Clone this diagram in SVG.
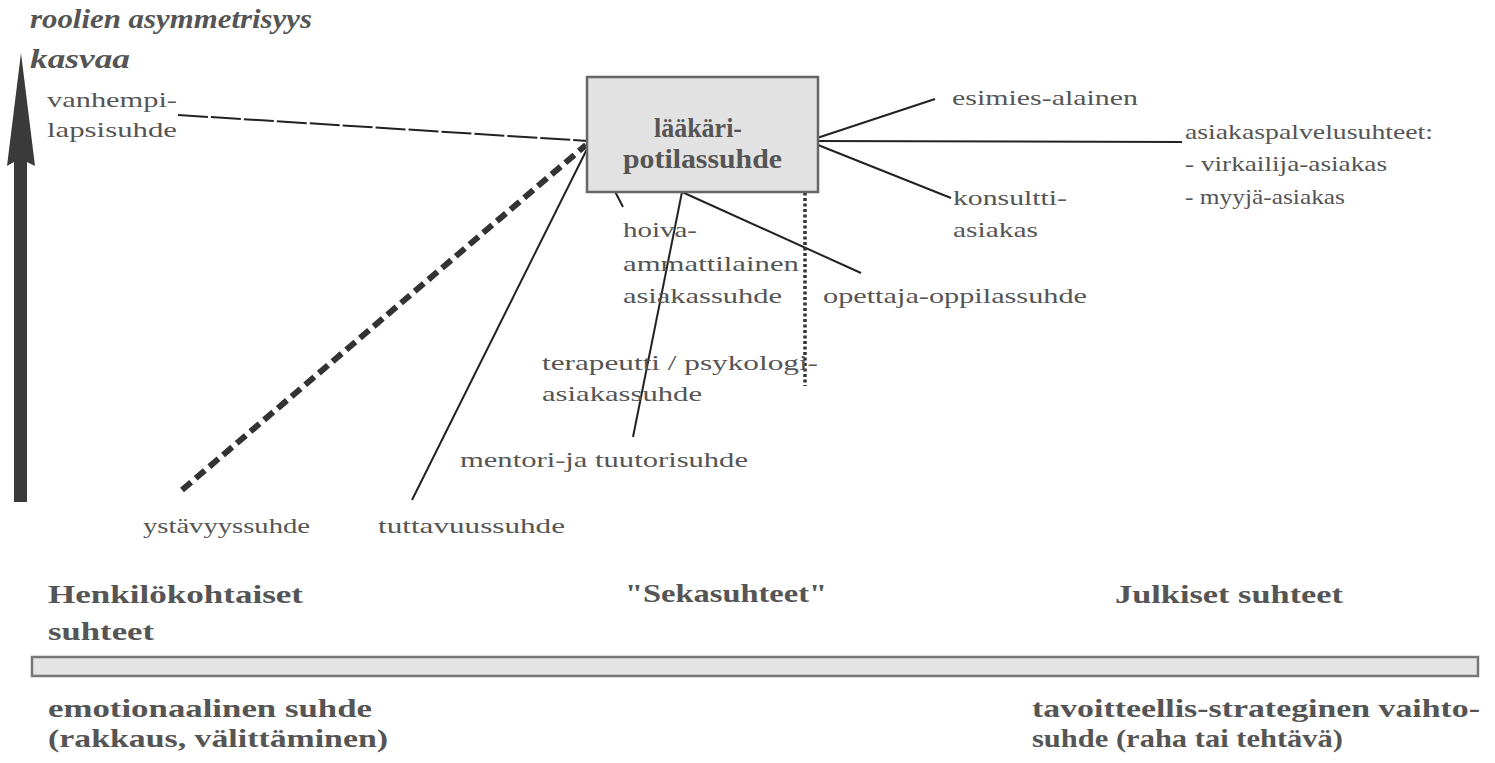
<svg xmlns="http://www.w3.org/2000/svg" width="1495" height="763" viewBox="0 0 1495 763">
<style>
.t{font-family:"Liberation Serif","DejaVu Serif",serif;fill:#555;font-size:22px}
.b{font-weight:bold;font-size:26px}
.bx{font-weight:bold;font-size:27px}
.ti{font-family:"Liberation Serif","DejaVu Serif",serif;fill:#555;font-size:27px;font-weight:bold;font-style:italic}
.ln{stroke:#222;stroke-width:2;fill:none}
</style>
<rect width="1495" height="763" fill="#fff"/>
<g id="axis-arrow">
<rect x="14" y="158" width="13" height="344" fill="#3a3a3a"/>
<polygon points="21,53 7,166 14,162 27,162 35,166" fill="#3a3a3a"/>
</g>
<g id="title">
<text class="ti" x="30" y="28" textLength="282" lengthAdjust="spacingAndGlyphs">roolien asymmetrisyys</text>
<text class="ti" x="30" y="68" textLength="100" lengthAdjust="spacingAndGlyphs">kasvaa</text>
</g>
<g id="connectors">
<line class="ln" x1="178" y1="115" x2="588" y2="141" stroke-dasharray="30 3"/>
<line x1="182" y1="490" x2="586" y2="145" stroke="#333" stroke-width="6" stroke-dasharray="12 6"/>
<line class="ln" x1="412" y1="500" x2="590" y2="143"/>
<line class="ln" x1="590" y1="143" x2="623" y2="207"/>
<line class="ln" x1="682" y1="192" x2="633" y2="437"/>
<line class="ln" x1="682" y1="192" x2="861" y2="273"/>
<line x1="805" y1="143" x2="805" y2="386" stroke="#333" stroke-width="3.5" stroke-dasharray="3 2.5"/>
<line class="ln" x1="808" y1="141" x2="935" y2="99"/>
<line class="ln" x1="808" y1="141" x2="1182" y2="142"/>
<line class="ln" x1="808" y1="141" x2="951" y2="198"/>
</g>
<g id="node-laakari">
<rect x="587" y="77" width="231" height="115" fill="#e2e2e2" stroke="#666" stroke-width="2.5"/>
<text class="t bx" x="654" y="137" textLength="88" lengthAdjust="spacingAndGlyphs">lääkäri-</text>
<text class="t bx" x="623" y="168" textLength="159" lengthAdjust="spacingAndGlyphs">potilassuhde</text>
</g>
<g id="node-vanhempi">
<text class="t" x="47" y="107" textLength="130" lengthAdjust="spacingAndGlyphs">vanhempi-</text>
<text class="t" x="47" y="137" textLength="130" lengthAdjust="spacingAndGlyphs">lapsisuhde</text>
</g>
<g id="node-esimies">
<text class="t" x="952" y="105" textLength="186" lengthAdjust="spacingAndGlyphs">esimies-alainen</text>
</g>
<g id="node-asiakaspalvelu">
<text class="t" x="1185" y="139" textLength="248" lengthAdjust="spacingAndGlyphs">asiakaspalvelusuhteet:</text>
<text class="t" x="1185" y="171" textLength="202" lengthAdjust="spacingAndGlyphs">- virkailija-asiakas</text>
<text class="t" x="1185" y="204" textLength="160" lengthAdjust="spacingAndGlyphs">- myyjä-asiakas</text>
</g>
<g id="node-konsultti">
<text class="t" x="953" y="205" textLength="114" lengthAdjust="spacingAndGlyphs">konsultti-</text>
<text class="t" x="953" y="237" textLength="85" lengthAdjust="spacingAndGlyphs">asiakas</text>
</g>
<g id="node-hoiva">
<text class="t" x="623" y="237" textLength="74" lengthAdjust="spacingAndGlyphs">hoiva-</text>
<text class="t" x="623" y="271" textLength="176" lengthAdjust="spacingAndGlyphs">ammattilainen</text>
<text class="t" x="623" y="303" textLength="159" lengthAdjust="spacingAndGlyphs">asiakassuhde</text>
</g>
<g id="node-opettaja">
<text class="t" x="823" y="303" textLength="264" lengthAdjust="spacingAndGlyphs">opettaja-oppilassuhde</text>
</g>
<g id="node-terapeutti">
<text class="t" x="542" y="370" textLength="276" lengthAdjust="spacingAndGlyphs">terapeutti / psykologi-</text>
<text class="t" x="542" y="401" textLength="160" lengthAdjust="spacingAndGlyphs">asiakassuhde</text>
</g>
<g id="node-mentori">
<text class="t" x="460" y="467" textLength="288" lengthAdjust="spacingAndGlyphs">mentori-ja tuutorisuhde</text>
</g>
<g id="node-ystavyys">
<text class="t" x="143" y="533" textLength="167" lengthAdjust="spacingAndGlyphs">ystävyyssuhde</text>
</g>
<g id="node-tuttavuus">
<text class="t" x="378" y="533" textLength="187" lengthAdjust="spacingAndGlyphs">tuttavuussuhde</text>
</g>
<g id="scale-bar">
<rect x="32" y="657" width="1446" height="19" fill="#e4e4e4" stroke="#777" stroke-width="2.5"/>
</g>
<g id="label-henkilokohtaiset">
<text class="t b" x="48" y="603" textLength="255" lengthAdjust="spacingAndGlyphs">Henkilökohtaiset</text>
<text class="t b" x="48" y="640" textLength="106" lengthAdjust="spacingAndGlyphs">suhteet</text>
</g>
<g id="label-sekasuhteet">
<text class="t b" x="625" y="602" textLength="202" lengthAdjust="spacingAndGlyphs">"Sekasuhteet"</text>
</g>
<g id="label-julkiset">
<text class="t b" x="1115" y="603" textLength="228" lengthAdjust="spacingAndGlyphs">Julkiset suhteet</text>
</g>
<g id="label-emotionaalinen">
<text class="t b" x="48" y="717" textLength="324" lengthAdjust="spacingAndGlyphs">emotionaalinen suhde</text>
<text class="t b" x="48" y="747" textLength="340" lengthAdjust="spacingAndGlyphs">(rakkaus, välittäminen)</text>
</g>
<g id="label-tavoitteellis">
<text class="t b" x="1032" y="717" textLength="448" lengthAdjust="spacingAndGlyphs">tavoitteellis-strateginen vaihto-</text>
<text class="t b" x="1032" y="747" textLength="311" lengthAdjust="spacingAndGlyphs">suhde (raha tai tehtävä)</text>
</g>
</svg>
